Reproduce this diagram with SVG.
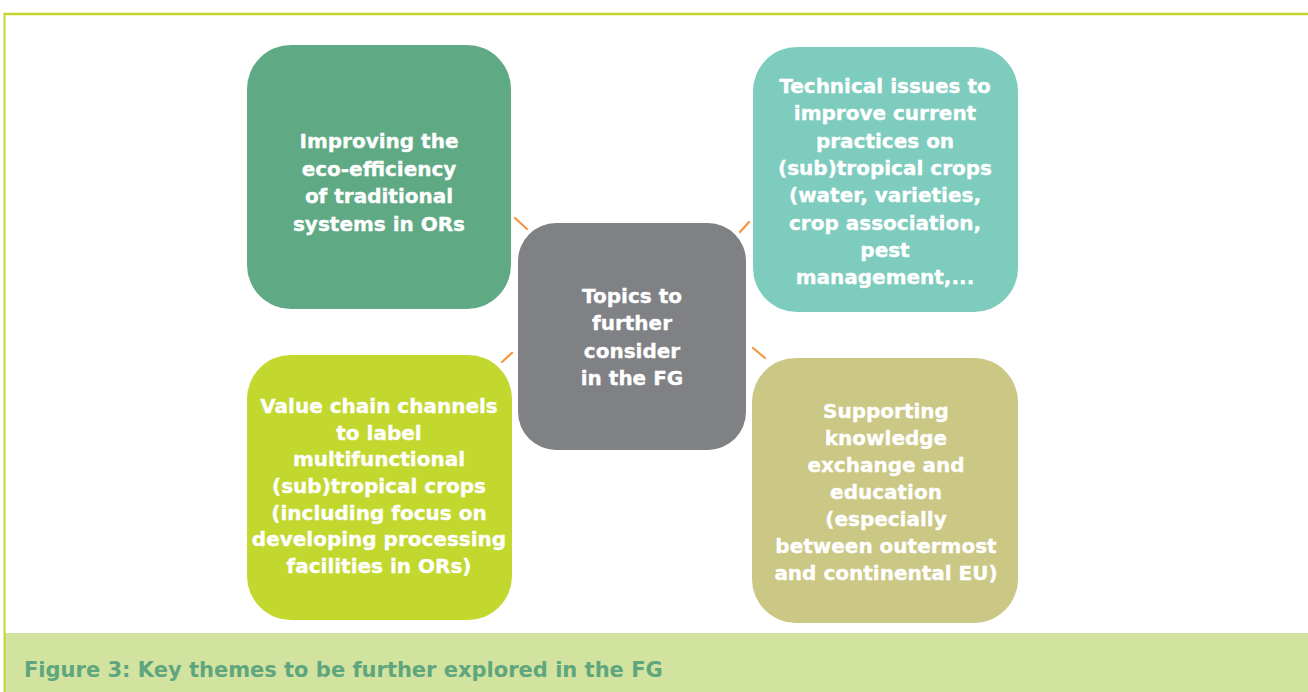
<svg xmlns="http://www.w3.org/2000/svg" width="1308" height="692" viewBox="0 0 1308 692">
<style>
.node text{font-family:"DejaVu Sans",Verdana,sans-serif;font-weight:bold;font-size:20px;fill:#ffffff;text-anchor:middle;stroke:#ffffff;stroke-width:0.35}
.conn line{stroke:#f7953f;stroke-width:2.2;stroke-linecap:round}
.cap{font-family:"DejaVu Sans",Verdana,sans-serif;font-weight:bold;font-size:21px;fill:#5fa67f}
</style>
<rect x="0" y="0" width="1308" height="692" fill="#ffffff"/>
<rect x="4" y="633" width="1304" height="59" fill="#d1e39e"/>
<line x1="4" y1="14" x2="1308" y2="14" stroke="#c4d52e" stroke-width="2.5"/>
<line x1="4.5" y1="13" x2="4.5" y2="692" stroke="#c4d52e" stroke-width="2"/>
<text class="cap" x="24" y="677">Figure 3: Key themes to be further explored in the FG</text>
<g class="conn">
<line x1="515" y1="218" x2="527" y2="229"/>
<line x1="749" y1="222" x2="740" y2="232"/>
<line x1="512" y1="353" x2="502" y2="362"/>
<line x1="753" y1="348" x2="765" y2="358"/>
</g>
<g id="node-tl" class="node">
<rect x="247" y="45" width="264" height="264" rx="44" fill="#5faa84"/>
<text x="379" y="148">Improving the</text>
<text x="379" y="175.5">eco-efficiency</text>
<text x="379" y="203">of traditional</text>
<text x="379" y="230.5">systems in ORs</text>
</g>
<g id="node-tr" class="node">
<rect x="753" y="47" width="265" height="265" rx="44" fill="#7dccbe"/>
<text x="885" y="93">Technical issues to</text>
<text x="885" y="120.3">improve current</text>
<text x="885" y="147.6">practices on</text>
<text x="885" y="174.9">(sub)tropical crops</text>
<text x="885" y="202.2">(water, varieties,</text>
<text x="885" y="229.5">crop association,</text>
<text x="885" y="256.8">pest</text>
<text x="885" y="284">management,...</text>
</g>
<g id="node-center" class="node">
<rect x="518" y="223" width="228" height="227" rx="38" fill="#808184"/>
<text x="632" y="303">Topics to</text>
<text x="632" y="330.3">further</text>
<text x="632" y="357.6">consider</text>
<text x="632" y="385">in the FG</text>
</g>
<g id="node-bl" class="node">
<rect x="247" y="355" width="265" height="265" rx="44" fill="#c2d82f"/>
<text x="379" y="413">Value chain channels</text>
<text x="379" y="439.7">to label</text>
<text x="379" y="466.3">multifunctional</text>
<text x="379" y="493">(sub)tropical crops</text>
<text x="379" y="519.7">(including focus on</text>
<text x="379" y="546.3">developing processing</text>
<text x="379" y="573">facilities in ORs)</text>
</g>
<g id="node-br" class="node">
<rect x="752" y="358" width="266" height="265" rx="44" fill="#cbc784"/>
<text x="886" y="418">Supporting</text>
<text x="886" y="445">knowledge</text>
<text x="886" y="472">exchange and</text>
<text x="886" y="499">education</text>
<text x="886" y="526">(especially</text>
<text x="886" y="553">between outermost</text>
<text x="886" y="580">and continental EU)</text>
</g>
</svg>
